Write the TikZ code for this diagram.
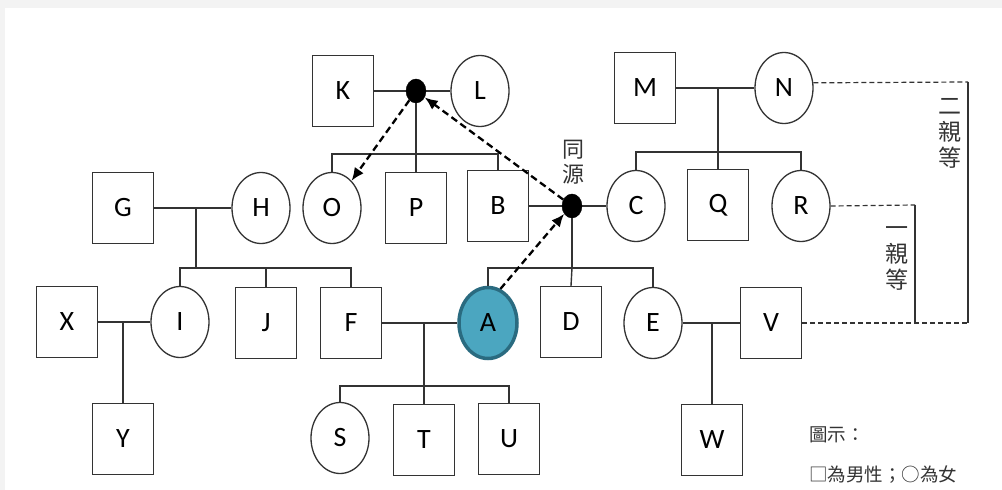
\documentclass[tikz,border=0pt]{standalone}
\usepackage{fontspec}
\setmainfont{Carlito}
\newfontfamily\cjk{Noto Sans CJK TC}
\usetikzlibrary{arrows.meta,shapes.geometric}
\definecolor{ink}{HTML}{333333}
\definecolor{tealfill}{HTML}{4BA6C0}
\definecolor{tealedge}{HTML}{2A6B80}
\definecolor{bordergray}{HTML}{F3F3F3}
\begin{document}
\begin{tikzpicture}[x=1pt,y=-1pt,
  male/.style={draw=ink, line width=1.3pt, fill=white, minimum width=61pt, minimum height=71pt, inner sep=0pt, font=\fontsize{28}{28}\selectfont},
  female/.style={ellipse, draw=ink, line width=1.3pt, fill=white, minimum width=58pt, minimum height=71pt, inner sep=0pt, font=\fontsize{28}{28}\selectfont},
  selfnode/.style={female, fill=tealfill, draw=tealedge, line width=3.5pt},
  dotnode/.style={ellipse, fill=black, draw=black, minimum width=20pt, minimum height=24pt, inner sep=0pt},
  link/.style={draw=ink, line width=1.4pt},
  degline/.style={draw=ink, line width=1.2pt, dash pattern=on 5pt off 3pt},
  arr/.style={draw=black, line width=2.3pt, dash pattern=on 7pt off 4pt, -{Latex[length=13pt,width=11pt]}},
  cjklabel/.style={font=\cjk\fontsize{22}{25}\selectfont, text=ink, align=center, inner sep=0pt},
  legend/.style={font=\cjk\fontsize{18.5}{20}\selectfont, text=ink, anchor=west, inner sep=0pt}
]
\useasboundingbox (0,0) rectangle (1002,490);
\fill[bordergray] (0,0) rectangle (1002,490);
\fill[white] (5,8) rectangle (1002,490);

% coordinates of junctions
\coordinate (klbar) at (416,154);
\coordinate (mn) at (718,88);
\coordinate (mnbar) at (718,152);
\coordinate (gh) at (196,208);
\coordinate (ghbar) at (196,268);
\coordinate (srcbar) at (572,268);
\coordinate (xi) at (123,322);
\coordinate (fa) at (424,323);
\coordinate (fabar) at (424,386);
\coordinate (ev) at (712,323);
\coordinate (n2) at (968,82);
\coordinate (vr) at (968,323);
\coordinate (r2) at (915,205);
\coordinate (r3) at (915,323);

% row 1
\node[male] (K) at (343,91) {K};
\node[female] (L) at (480,91) {L};
\node[male] (M) at (645,88) {M};
\node[female] (N) at (784,88) {N};
% row 2
\node[male] (G) at (123,208) {G};
\node[female] (H) at (261,208) {H};
\node[female] (O) at (332,208) {O};
\node[male] (P) at (416,208) {P};
\node[male] (B) at (498,206) {B};
\node[female] (C) at (636,206) {C};
\node[male] (Q) at (718,205) {Q};
\node[female] (R) at (801,206) {R};
% row 3
\node[male] (X) at (67,322) {X};
\node[female] (I) at (180,322) {I};
\node[male] (J) at (266,323) {J};
\node[male] (F) at (351,323) {F};
\node[selfnode] (A) at (488,323) {A};
\node[male] (D) at (571,322) {D};
\node[female] (E) at (653,323) {E};
\node[male] (V) at (771,323) {V};
% row 4
\node[male] (Y) at (123,439) {Y};
\node[female] (S) at (340,438) {S};
\node[male] (T) at (424,440) {T};
\node[male] (U) at (509,439) {U};
\node[male] (W) at (712,440) {W};

% family lines
\draw[link] (K.east) -- (L.west);
\draw[link] (O.north) |- (klbar) -| (B.north);
\draw[link] (M.east) -- (N.west);
\draw[link] (mn) -- (Q.north);
\draw[link] (C.north) |- (mnbar) -| (R.north);
\draw[link] (G.east) -- (H.west);
\draw[link] (gh) -- (ghbar);
\draw[link] (I.north) |- (ghbar) -| (F.north);
\draw[link] (ghbar -| J.north) -- (J.north);
\draw[link] (B.east) -- (C.west);
\draw[link] (A.north) |- (srcbar) -| (E.north);
\draw[link] (srcbar) -- (D.north);
\draw[link] (X.east) -- (I.west);
\draw[link] (xi) -- (Y.north);
\draw[link] (F.east) -- (A.west);
\draw[link] (fa) -- (T.north);
\draw[link] (S.north) |- (fabar) -| (U.north);
\draw[link] (E.east) -- (V.west);
\draw[link] (ev) -- (W.north);

% dots
\node[dotnode] (kl) at (416,91) {};
\draw[link] (kl) -- (P.north);
\node[dotnode] (src) at (572,206) {};
\draw[link] (src) -- (srcbar);
\node[cjklabel] (srclabel) at (573,162) {同\\源};

% degree brackets
\draw[degline] (N.10) -- (n2);
\draw[link, line width=1.2pt] (n2) -- (vr);
\draw[degline] (V.east) -- (vr);
\draw[degline] (R.east) -- (r2);
\draw[link, line width=1.2pt] (r2) -- (r3);
\node[cjklabel, font=\cjk\fontsize{23}{26}\selectfont] (deg2) at (950,133) {二\\親\\等};
\node[cjklabel, font=\cjk\fontsize{23}{26}\selectfont] (deg1) at (897,258) {一\\親\\等};

% dashed arrows
\draw[arr] (src) -- (kl);
\draw[arr] (kl) -- (O);
\draw[arr] (A.70) -- (src.225);

% legend
\node[legend] (leg1) at (809,435) {圖示：};
\node[legend] (leg2) at (809,475) {□為男性；○為女};
\end{tikzpicture}
\end{document}
